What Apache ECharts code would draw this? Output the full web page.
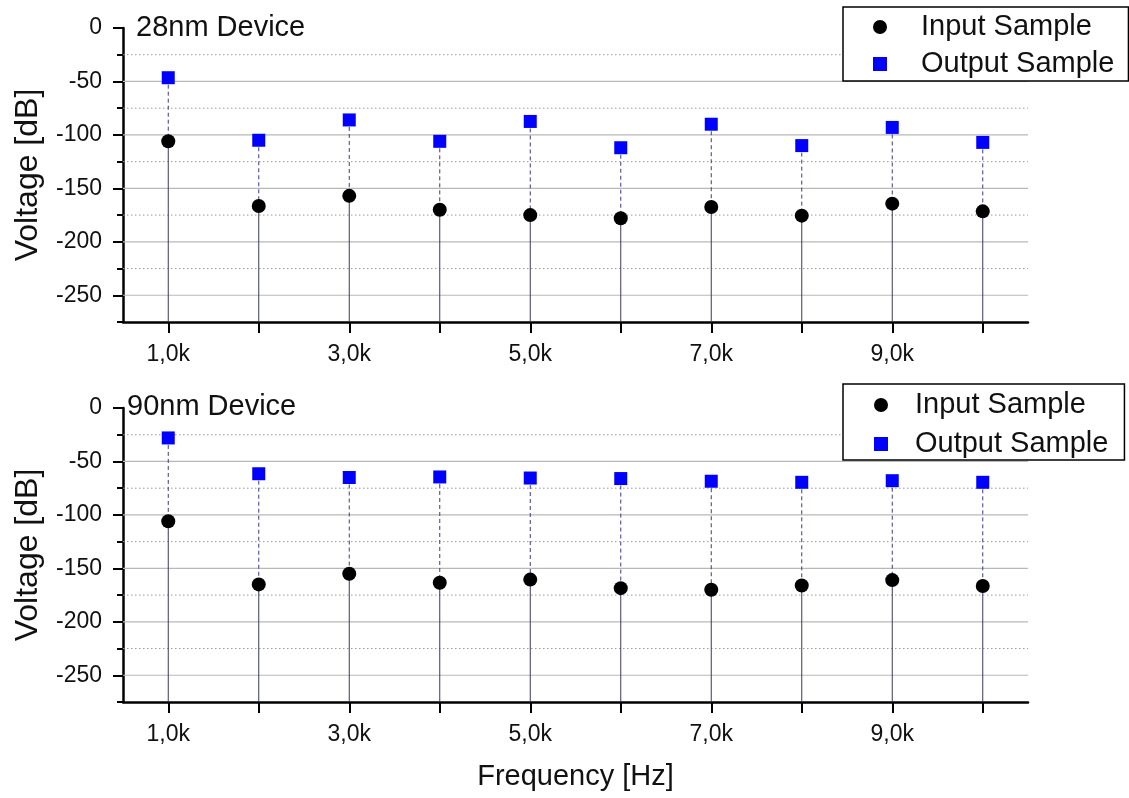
<!DOCTYPE html>
<html>
<head>
<meta charset="utf-8">
<script src="https://cdn.jsdelivr.net/npm/echarts@6/dist/echarts.min.js"></script>
<style>
html,body{margin:0;padding:0;background:#fff;}
#chart{width:1129px;height:798px;}
</style>
</head>
<body>
<div id="chart"></div>
<script>
// ---- data ----
const freq = [1000, 2000, 3000, 4000, 5000, 6000, 7000, 8000, 9000, 10000];
const input28 = [-106, -166.5, -157, -170, -175, -178, -167.5, -175.5, -164.3, -171.5];
const output28 = [-46.5, -105, -86, -106, -87.4, -112, -90, -110, -93, -107];
const input90 = [-106, -165, -155, -163.5, -160.5, -168.5, -170, -166, -161, -166.5];
const output90 = [-28, -61.5, -65, -64.5, -65.5, -66, -68.5, -69.5, -68, -69.5];
const xTickValues = [1000, 2000, 3000, 4000, 5000, 6000, 7000, 8000, 9000, 10000];
const xLabelValues = [1000, 3000, 5000, 7000, 9000];
const yMajorValues = [0, -50, -100, -150, -200, -250];
const yMinorValues = [-25, -75, -125, -175, -225, -275];
const yGridSolid = [-50, -100, -150, -200, -250];
const yGridDotted = [-25, -75, -125, -175, -225];
const panelTitles = ['28nm Device', '90nm Device'];
const seriesNames = ['Input Sample', 'Output Sample'];

const X_MIN = 500, X_MAX = 10500, Y_MIN = -275, Y_MAX = 0;
const FONT = 'Liberation Sans, Arial, sans-serif';

const pairs = (xs, ys) => xs.map((x, i) => [x, ys[i]]);
const triples = (xs, ys, zs) => xs.map((x, i) => [x, ys[i], zs[i]]);

// dashed output stem: from output value down to input value
function outStemRender(params, api) {
  const x = api.value(0);
  const p1 = api.coord([x, api.value(1)]);
  const p2 = api.coord([x, api.value(2)]);
  return {
    type: 'line',
    shape: { x1: p1[0], y1: p1[1], x2: p2[0], y2: p2[1] },
    style: { stroke: '#3b3b86', lineWidth: 1, lineDash: [4, 3] }
  };
}
// solid input stem: from input value down to axis bottom
function inStemRender(params, api) {
  const x = api.value(0);
  const p1 = api.coord([x, api.value(1)]);
  const p2 = api.coord([x, Y_MIN]);
  return {
    type: 'line',
    shape: { x1: p1[0], y1: p1[1], x2: p2[0], y2: p2[1] },
    style: { stroke: '#3a3a62', lineWidth: 1 }
  };
}
function gridRender(dotted) {
  return function (params, api) {
    const v = api.value(1);
    const p1 = api.coord([X_MIN, v]);
    const p2 = api.coord([X_MAX, v]);
    return {
      type: 'line',
      shape: { x1: p1[0], y1: p1[1], x2: p2[0], y2: p2[1] },
      style: dotted ? { stroke: '#9a9a9a', lineWidth: 1, lineDash: [1.5, 2.5] }
                    : { stroke: '#b8b8b8', lineWidth: 1.2 }
    };
  };
}

const grids = [
  { left: 123, right: 101, top: 28, height: 294 },
  { left: 123, right: 101, top: 408, height: 294 }
];

const xAxes = [], yAxes = [], series = [];
const inputs = [input28, input90], outputs = [output28, output90];

for (let g = 0; g < 2; g++) {
  xAxes.push({
    type: 'value', gridIndex: g, min: X_MIN, max: X_MAX, position: 'bottom',
    axisLine: { show: true, onZero: false, lineStyle: { color: '#000', width: 2.5 } },
    axisTick: { show: true, customValues: xTickValues, length: 11, lineStyle: { color: '#000', width: 2 } },
    axisLabel: {
      show: true, customValues: xLabelValues, margin: 21,
      fontSize: 23, color: '#111', fontFamily: FONT,
      formatter: v => (v / 1000).toFixed(1).replace('.', ',') + 'k'
    },
    splitLine: { show: false },
    name: g === 1 ? 'Frequency [Hz]' : '',
    nameLocation: 'middle', nameGap: 60,
    nameTextStyle: { fontSize: 29, color: '#111', fontFamily: FONT }
  });
  yAxes.push({
    type: 'value', gridIndex: g, min: Y_MIN, max: Y_MAX, position: 'left',
    axisLine: { show: true, onZero: false, lineStyle: { color: '#000', width: 2.5 } },
    axisTick: { show: true, customValues: yMajorValues, length: 10, lineStyle: { color: '#000', width: 2 } },
    axisLabel: { show: true, customValues: yMajorValues, margin: 21, fontSize: 23, color: '#111', fontFamily: FONT },
    splitLine: { show: false },
    name: 'Voltage [dB]', nameLocation: 'middle', nameGap: 79,
    nameTextStyle: { fontSize: 32, color: '#111', fontFamily: FONT }
  });
  yAxes.push({
    type: 'value', gridIndex: g, min: Y_MIN, max: Y_MAX, position: 'left',
    axisLine: { show: false, onZero: false },
    axisTick: { show: true, customValues: yMinorValues, length: 6, lineStyle: { color: '#000', width: 2 } },
    axisLabel: { show: false },
    splitLine: { show: false }
  });
  const yi = g * 2;
  series.push({
    type: 'custom', name: 'gridSolid' + g, xAxisIndex: g, yAxisIndex: yi, z: 1, silent: true,
    data: yGridSolid.map(v => [X_MIN, v]), renderItem: gridRender(false), encode: { x: 0, y: 1 }
  });
  series.push({
    type: 'custom', name: 'gridDot' + g, xAxisIndex: g, yAxisIndex: yi, z: 1, silent: true,
    data: yGridDotted.map(v => [X_MIN, v]), renderItem: gridRender(true), encode: { x: 0, y: 1 }
  });
  series.push({
    type: 'custom', name: 'stemOut' + g, xAxisIndex: g, yAxisIndex: yi, z: 2, silent: true,
    data: triples(freq, outputs[g], inputs[g]), renderItem: outStemRender, encode: { x: 0, y: [1, 2] }
  });
  series.push({
    type: 'custom', name: 'stemIn' + g, xAxisIndex: g, yAxisIndex: yi, z: 3, silent: true,
    data: pairs(freq, inputs[g]), renderItem: inStemRender, encode: { x: 0, y: 1 }
  });
  series.push({
    type: 'scatter', name: seriesNames[0], xAxisIndex: g, yAxisIndex: yi, z: 5,
    symbol: 'circle', symbolSize: 14, itemStyle: { color: '#000', opacity: 1 },
    data: pairs(freq, inputs[g])
  });
  series.push({
    type: 'scatter', name: seriesNames[1], xAxisIndex: g, yAxisIndex: yi, z: 5,
    symbol: 'rect', symbolSize: 13, itemStyle: { color: '#0000ff', opacity: 1 },
    data: pairs(freq, outputs[g])
  });
}

const legendBase = {
  orient: 'vertical', itemWidth: 14, itemHeight: 14, itemGap: 5,
  data: [
    { name: seriesNames[0], icon: 'circle', itemStyle: { color: '#000', opacity: 1 } },
    { name: seriesNames[1], icon: 'rect', itemStyle: { color: '#0000ff', opacity: 1 } }
  ],
  backgroundColor: '#fff', borderColor: '#000', borderWidth: 1.5, borderRadius: 0,
  textStyle: { fontSize: 29, color: '#111', fontFamily: FONT, lineHeight: 32 },
  selectedMode: false, z: 10
};

const option = {
  animation: false,
  backgroundColor: '#fff',
  grid: grids,
  xAxis: xAxes,
  yAxis: yAxes,
  title: [
    { text: panelTitles[0], left: 136, top: 13, padding: 0, textStyle: { fontSize: 29, fontWeight: 'normal', color: '#111', fontFamily: FONT } },
    { text: panelTitles[1], left: 127, top: 392, padding: 0, textStyle: { fontSize: 29, fontWeight: 'normal', color: '#111', fontFamily: FONT } }
  ],
  legend: [
    Object.assign({}, legendBase, {
      left: 843, top: 7, padding: [4, 14, 1, 30],
      textStyle: Object.assign({}, legendBase.textStyle, { padding: [0, 0, 0, 29] })
    }),
    Object.assign({}, legendBase, {
      left: 843, top: 384, padding: [5, 16, 0, 31], itemGap: 7,
      textStyle: Object.assign({}, legendBase.textStyle, { padding: [0, 0, 0, 22] })
    })
  ],
  series: series
};

const chart = echarts.init(document.getElementById('chart'), null, { renderer: 'canvas' });
chart.setOption(option);
</script>
</body>
</html>
